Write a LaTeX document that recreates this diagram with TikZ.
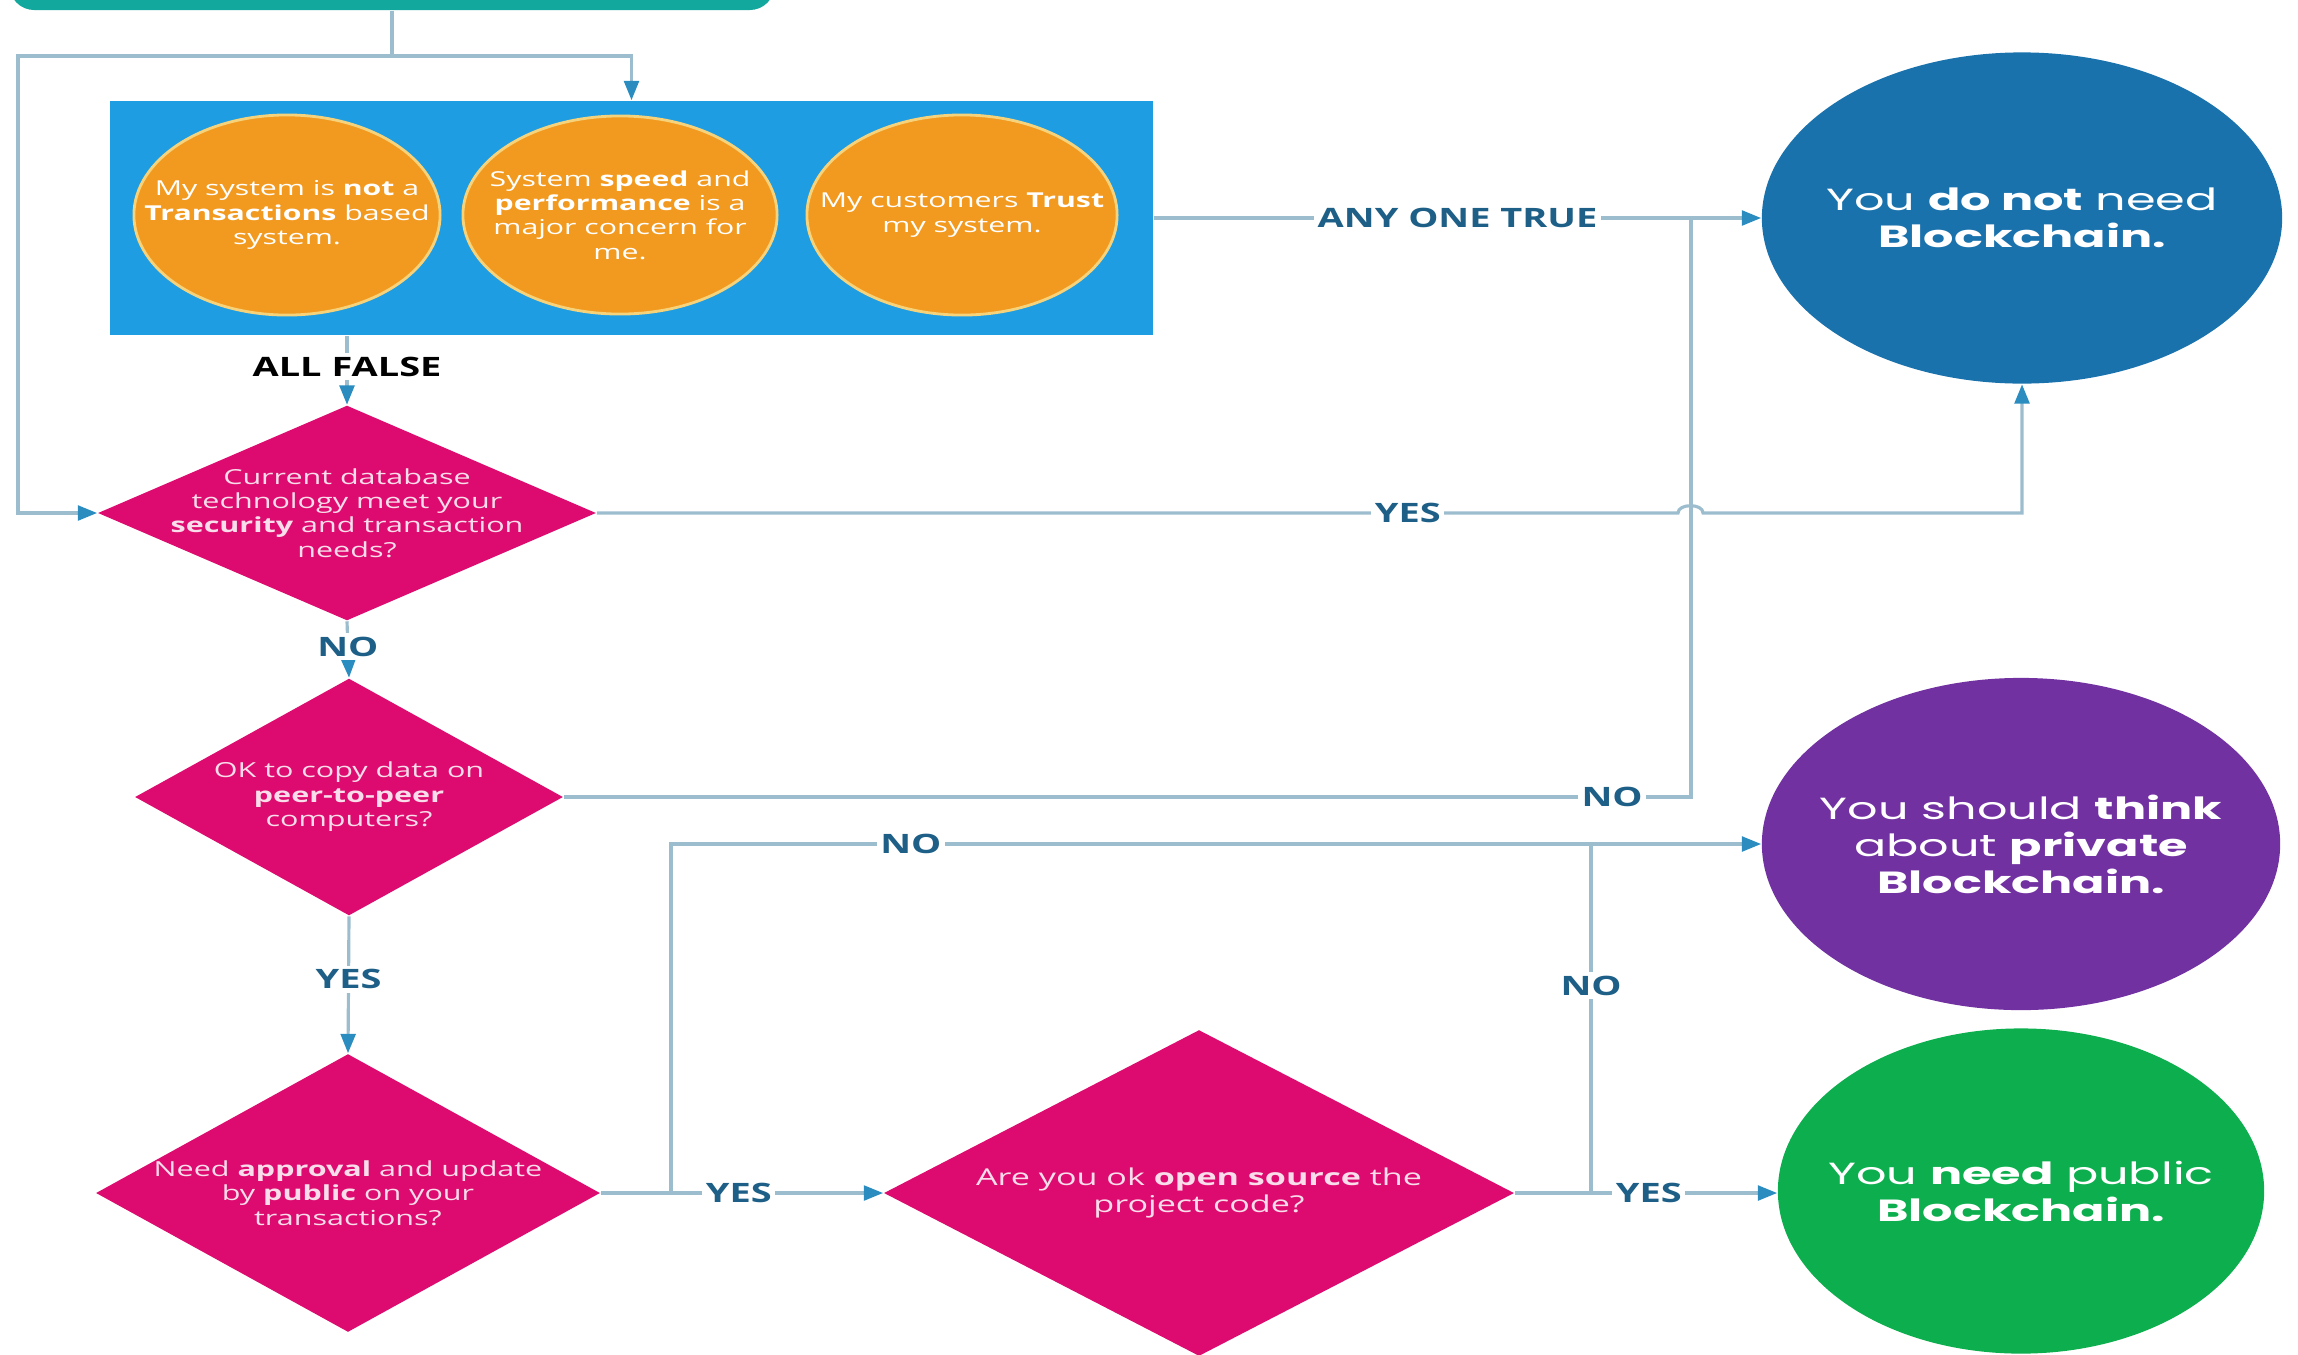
\documentclass[tikz,border=0pt]{standalone}
\usepackage{fontspec}
\usetikzlibrary{shapes.geometric,arrows.meta,calc}
\newfontfamily\bodyf[FakeStretch=1.47]{Open Sans}
\newfontfamily\labf[FakeStretch=1.42]{Open Sans}
\newfontfamily\endf[FakeStretch=1.56]{Poppins}
\definecolor{tealC}{HTML}{13A89E}
\definecolor{rectC}{HTML}{1E9DE2}
\definecolor{orangeC}{HTML}{F29A1F}
\definecolor{orangeB}{HTML}{F6D27A}
\definecolor{nbC}{HTML}{1A72AD}
\definecolor{purpC}{HTML}{7131A1}
\definecolor{greenC}{HTML}{0CAE4E}
\definecolor{magC}{HTML}{DD0B6F}
\definecolor{lineC}{HTML}{9CBDCE}
\definecolor{arrC}{HTML}{2A8CBF}
\definecolor{labC}{HTML}{1D5F86}
\definecolor{dtxtC}{HTML}{F9DDEB}
\tikzset{
  conn/.style={draw=lineC, line width=0.9pt},
  arr/.style={-{Triangle[length=5.5pt,width=4.2pt,color=arrC]}},
  lbl/.style={fill=white, inner sep=1pt, text=labC, font=\labf\fontsize{7.6}{8}\selectfont\bfseries},
  oval/.style={ellipse, fill=orangeC, draw=orangeB, line width=0.8pt, inner sep=0pt},
  otxt/.style={text=white, align=center, font=\bodyf\fontsize{5.85}{6.9}\selectfont},
  dia/.style={diamond, fill=magC, inner sep=0pt},
  dtxt/.style={text=dtxtC, align=center, font=\bodyf\fontsize{5.9}{6.95}\selectfont},
  endc/.style={ellipse, inner sep=0pt},
  etxt/.style={text=white, align=center, font=\endf\fontsize{8.7}{10.5}\selectfont},
}
\begin{document}
\begin{tikzpicture}[x=0.01cm,y=-0.01cm]
\useasboundingbox (0,0) rectangle (2298,1354);
% top teal box
\node[fill=tealC, rounded corners=0.25cm, minimum width=7.65cm, minimum height=1.2cm, inner sep=0pt] (top) at (392,-50) {};
% blue rectangle with ovals
\node[fill=rectC, minimum width=10.43cm, minimum height=2.34cm, inner sep=0pt] (rect) at (631.5,218) {};
\node[oval, minimum width=3.06cm, minimum height=2.0cm,
  label={[otxt]center:{My system is \textbf{not} a\\\textbf{Transactions} based\\system.}}] (o1) at (287,215) {};
\node[oval, minimum width=3.14cm, minimum height=1.98cm,
  label={[otxt]center:{System \textbf{speed} and\\\textbf{performance} is a\\major concern for\\me.}}] (o2) at (620,215) {};
\node[oval, minimum width=3.10cm, minimum height=2.0cm,
  label={[otxt]center:{My customers \textbf{Trust}\\my system.}}] (o3) at (962,215) {};
% end circles
\node[endc, fill=nbC, minimum width=5.2cm, minimum height=3.31cm,
  label={[etxt]center:{You \textbf{do not} need\\\textbf{Blockchain.}}}] (nb) at (2022,218) {};
\node[endc, fill=purpC, minimum width=5.18cm, minimum height=3.32cm,
  label={[etxt]center:{You should \textbf{think}\\about \textbf{private}\\\textbf{Blockchain.}}}] (np) at (2021,844) {};
\node[endc, fill=greenC, minimum width=4.86cm, minimum height=3.25cm,
  label={[etxt]center:{You \textbf{need} public\\\textbf{Blockchain.}}}] (ng) at (2021,1191) {};
% diamonds
\node[dia, minimum width=4.98cm, minimum height=2.15cm,
  label={[dtxt]center:{Current database\\technology meet your\\\textbf{security} and transaction\\needs?}}] (d1) at (347,513) {};
\node[dia, minimum width=4.28cm, minimum height=2.37cm,
  label={[dtxt]center:{OK to copy data on\\\textbf{peer-to-peer}\\computers?}}] (d2) at (349,797) {};
\node[dia, minimum width=5.04cm, minimum height=2.78cm,
  label={[dtxt]center:{Need \textbf{approval} and update\\by \textbf{public} on your\\transactions?}}] (d3) at (348,1193) {};
\node[dia, minimum width=6.30cm, minimum height=3.26cm,
  label={[dtxt,font=\bodyf\fontsize{6.6}{7.7}\selectfont]center:{Are you ok \textbf{open source} the\\project code?}}] (d4) at (1199,1193) {};
% junction coordinates
\coordinate (j0) at (392,56);
\coordinate (jL) at (18,56);
\coordinate (jA) at (1691,218);
\coordinate (h1) at (1678,513);
\coordinate (h2) at (1703,513);
\coordinate (jB) at (671,1193);
\coordinate (jC) at (1591,1193);
% connectors
\draw[conn] (top.south) -- (j0);
\draw[conn,arr] (j0) -| (rect.north);
\draw[conn,arr] (j0) -- (jL) |- (d1.west);
\draw[conn,arr] (rect.south -| d1.north) -- node[lbl,text=black,pos=0.45]{ALL FALSE} (d1.north);
\draw[conn,arr] (rect.east) -- node[lbl,pos=0.5]{ANY ONE TRUE} (nb.west);
\draw[conn,arr] (d1.east) -- node[lbl,pos=0.75]{YES} (h1) to[out=90,in=90,looseness=1] (h2) -| (nb.south);
\draw[conn] (d2.east) -| node[lbl,pos=0.465]{NO} (jA);
\draw[conn,arr] (d1.south) -- node[lbl,pos=0.45]{NO} (d2.north);
\draw[conn,arr] (d2.south) -- node[lbl,pos=0.46]{YES} (d3.north);
\draw[conn,arr] (d3.east) -- (jB) -- node[lbl,pos=0.32]{YES} (d4.west);
\draw[conn,arr] (jB) |- node[lbl,pos=0.61]{NO} (np.west);
\draw[conn,arr] (d4.east) -- (jC) -- node[lbl,pos=0.31]{YES} (ng.west |- jC);
\draw[conn] (jC) -- node[lbl,pos=0.594]{NO} (jC |- np.west);
\end{tikzpicture}
\end{document}
